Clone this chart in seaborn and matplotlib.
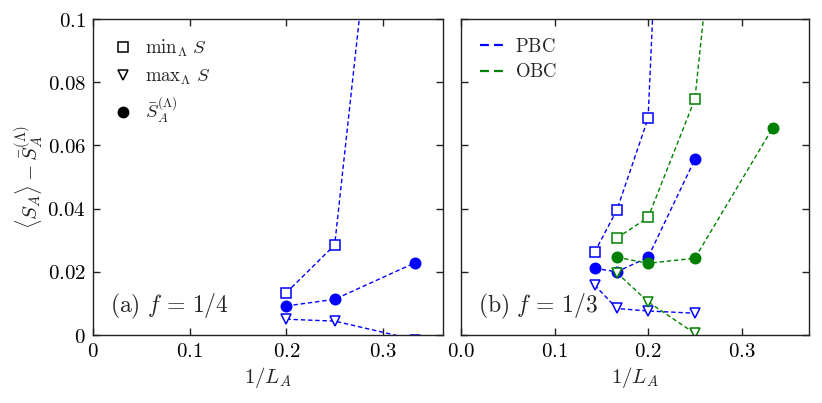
import numpy as np
import pandas as pd
import matplotlib
matplotlib.use("Agg")
import matplotlib.pyplot as plt
import seaborn as sns
from matplotlib.lines import Line2D

# ---------------- data ----------------
# panel (a) f = 1/4, PBC only
a_x = [1/5, 1/4, 1/3]
a_min = [0.0134, 0.0285, 0.263]
a_max = [0.0050, 0.0044, -0.0015]
a_mean = [0.0092, 0.0113, 0.0229]

# panel (b) f = 1/3
b_pbc_x = [1/7, 1/6, 1/5, 1/4]
b_pbc_min = [0.0262, 0.0396, 0.0686, 0.40]
b_pbc_max = [0.0158, 0.0084, 0.0076, 0.0069]
b_pbc_mean = [0.0211, 0.0200, 0.0246, 0.0556]

b_obc_x_min = [1/6, 1/5, 1/4, 1/3]
b_obc_min = [0.0307, 0.0372, 0.0746, 0.309]
b_obc_x_max = [1/6, 1/5, 1/4]
b_obc_max = [0.0197, 0.0105, 0.0005]
b_obc_x_mean = [1/6, 1/5, 1/4, 1/3]
b_obc_mean = [0.0246, 0.0227, 0.0243, 0.0656]

x_ticks = [0, 0.1, 0.2, 0.3]
a_xtick_labels = ["0", "0.1", "0.2", "0.3"]
b_xtick_labels = ["0.0", "0.1", "0.2", "0.3"]
y_ticks = [0, 0.02, 0.04, 0.06, 0.08, 0.1]
y_tick_labels = ["0", "0.02", "0.04", "0.06", "0.08", "0.1"]

# ---------------- style ----------------
sns.set_theme(style="ticks")
plt.rcParams["mathtext.fontset"] = "cm"
plt.rcParams["font.family"] = ["DejaVu Serif"]
plt.rcParams["axes.linewidth"] = 1.0

BLUE = "#0000ff"
GREEN = "#008000"
DASH = (0, (3.2, 2.0))

fig = plt.figure(figsize=(8.22, 4.03), dpi=100)
axa = fig.add_axes([0.1131, 0.1687, 0.4258, 0.7841])
axb = fig.add_axes([0.5608, 0.1687, 0.4234, 0.7841])


def series(ax, x, y, color, marker, filled, ms):
    df = pd.DataFrame({"x": x, "y": y})
    sns.lineplot(data=df, x="x", y="y", ax=ax, color=color, linestyle=DASH,
                 linewidth=1.0, marker=marker, markersize=ms,
                 markerfacecolor=(color if filled else "white"),
                 markeredgecolor=color, markeredgewidth=1.1,
                 sort=False, estimator=None, legend=False)


series(axa, a_x, a_min, BLUE, "s", False, 6.5)
series(axa, a_x, a_max, BLUE, "v", False, 6.5)
series(axa, a_x, a_mean, BLUE, "o", True, 7.5)

series(axb, b_pbc_x, b_pbc_min, BLUE, "s", False, 6.5)
series(axb, b_pbc_x, b_pbc_max, BLUE, "v", False, 6.5)
series(axb, b_pbc_x, b_pbc_mean, BLUE, "o", True, 7.5)
series(axb, b_obc_x_min, b_obc_min, GREEN, "s", False, 6.5)
series(axb, b_obc_x_max, b_obc_max, GREEN, "v", False, 6.5)
series(axb, b_obc_x_mean, b_obc_mean, GREEN, "o", True, 7.5)

for ax, xmax, labs in [(axa, 0.362, a_xtick_labels), (axb, 0.372, b_xtick_labels)]:
    ax.set_xlim(0, xmax)
    ax.set_ylim(0, 0.1)
    ax.set_xticks(x_ticks)
    ax.set_xticklabels(["$%s$" % s for s in labs], fontsize=15)
    ax.set_yticks(y_ticks)
    ax.tick_params(direction="in", length=5, width=1, top=True, right=True,
                   colors="#222222", labelcolor="black", pad=5)
    ax.set_xlabel(r"$1/L_A$", fontsize=15, labelpad=3)
    for sp in ax.spines.values():
        sp.set_color("#222222")

axa.set_yticklabels(["$%s$" % s for s in y_tick_labels], fontsize=15)
axb.set_yticklabels([])
axa.set_ylabel(r"$\langle S_A\rangle - \bar{S}_A^{(\Lambda)}$", fontsize=15, labelpad=1)
axb.set_ylabel("")

axa.text(0.05, 0.045, r"$\mathrm{(a)}\ f\,=\,1/4$", transform=axa.transAxes, fontsize=17,
         ha="left", va="bottom")
axb.text(0.05, 0.045, r"$\mathrm{(b)}\ f\,=\,1/3$", transform=axb.transAxes, fontsize=17,
         ha="left", va="bottom")

# legends
hand_a = [Line2D([], [], linestyle="none", marker="s", markersize=6.5, markerfacecolor="white",
                 markeredgecolor="black", markeredgewidth=1.1),
          Line2D([], [], linestyle="none", marker="v", markersize=6.5, markerfacecolor="white",
                 markeredgecolor="black", markeredgewidth=1.1),
          Line2D([], [], linestyle="none", marker="o", markersize=7.5, markerfacecolor="black",
                 markeredgecolor="black")]
lab_a = [r"$\mathrm{min}_\Lambda\ S$", r"$\mathrm{max}_\Lambda\ S$", r"$\bar{S}_A^{(\Lambda)}$"]
axa.legend(hand_a, lab_a, loc="upper left", frameon=False, fontsize=13.5,
           handlelength=1.2, handletextpad=0.6, labelspacing=0.45,
           borderaxespad=0.6)

hand_b = [Line2D([], [], color=BLUE, linestyle=(0, (4.0, 2.3)), linewidth=1.6),
          Line2D([], [], color=GREEN, linestyle=(0, (4.0, 2.3)), linewidth=1.6)]
axb.legend(hand_b, [r"$\mathrm{PBC}$", r"$\mathrm{OBC}$"], loc="upper left", frameon=False,
           fontsize=13.5, handlelength=1.5, handletextpad=0.4, labelspacing=0.4,
           borderaxespad=0.6)

fig.savefig("out.png", dpi=100)
